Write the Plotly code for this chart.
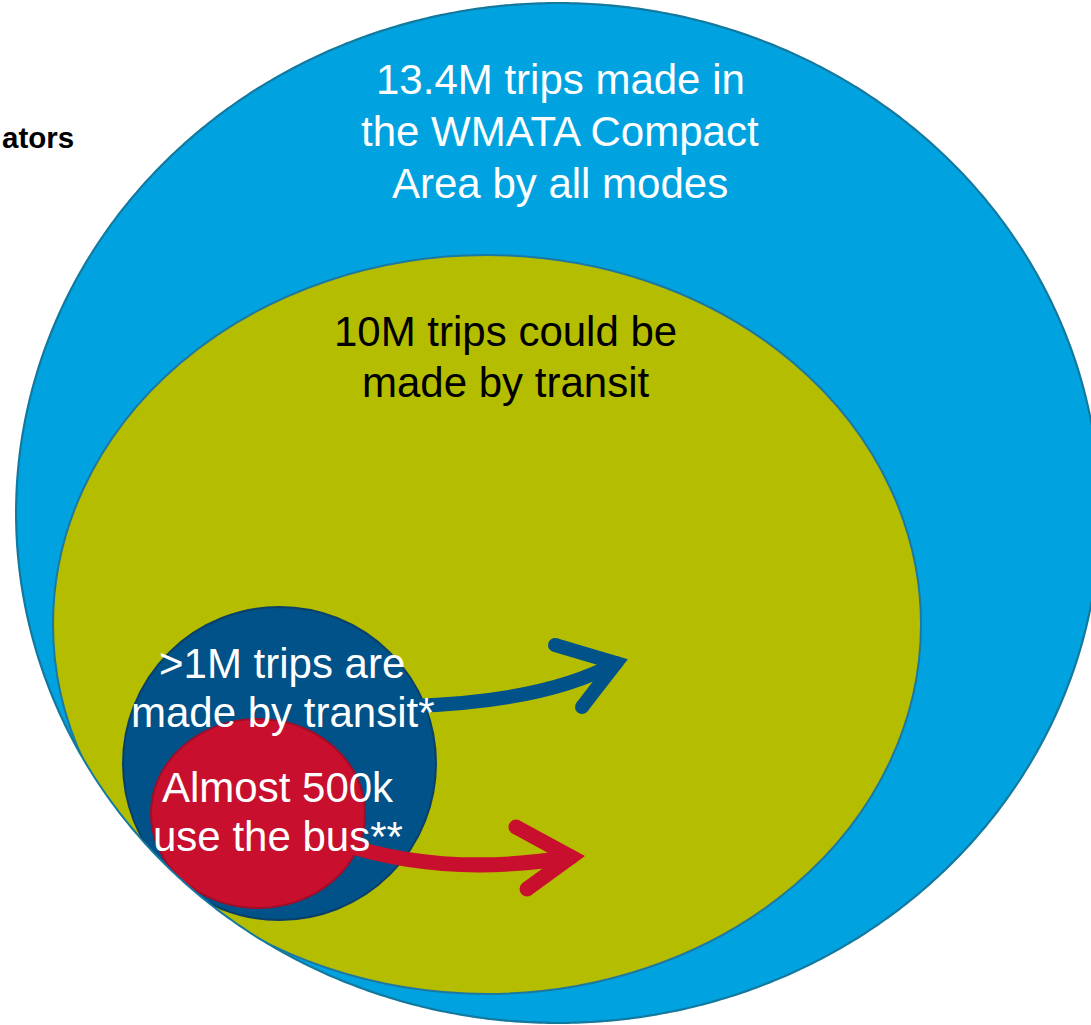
import numpy as np
import plotly.graph_objects as go

# ---------------- data ----------------
region_names = ["All trips", "Transit-possible", "Transit trips", "Bus trips"]
region_lines = [
    ["13.4M trips made in", "the WMATA Compact", "Area by all modes"],
    ["10M trips could be", "made by transit"],
    [">1M trips are", "made by transit*"],
    ["Almost 500k", "use the bus**"],
]
# diagram geometry (diagram units)
ellipse_cx = [558, 487, 279.5, 258]
ellipse_cy = [513, 624.5, 763.5, 813.5]
ellipse_rx = [542, 434, 156.5, 107]
ellipse_ry = [510, 369.5, 156.5, 94.5]

fill_colors = ["#00A3E0", "#B5BD00", "#005288", "#C8102E"]
line_colors = ["#14799F", "#1B78A0", "#0A3F68", "#A00D28"]
text_colors = ["white", "black", "white", "white"]

label_x = [560, 505, 282, 278]
label_first_y = [79, 331, 663, 787]
label_gap = [52, 51, 49, 49]

# arrows: start, bezier control, tip, head end upper, head end lower
arrow_start = [(410, 706), (340, 843)]
arrow_ctrl = [(545, 702), (444, 878)]
arrow_tip = [(616, 663), (571, 857)]
arrow_head_up = [(555, 645), (516, 827)]
arrow_head_low = [(582, 707), (527, 889)]
arrow_colors = ["#005288", "#C8102E"]
arrow_widths = [14, 15]

side_text = "ators"

W, H = 1091, 1025
FONT = "Liberation Sans, Arial, sans-serif"


def ellipse_path(cx, cy, rx, ry, n=720):
    t = np.linspace(0, 2 * np.pi, n, endpoint=False)
    xs = cx + rx * np.cos(t)
    ys = cy + ry * np.sin(t)
    return "M " + " L ".join(f"{x:.2f},{y:.2f}" for x, y in zip(xs, ys)) + " Z"


fig = go.Figure()
shapes = []

# ellipses
for i in range(4):
    shapes.append(dict(
        type="circle", xref="x", yref="y", layer="below",
        x0=ellipse_cx[i] - ellipse_rx[i], x1=ellipse_cx[i] + ellipse_rx[i],
        y0=ellipse_cy[i] - ellipse_ry[i], y1=ellipse_cy[i] + ellipse_ry[i],
        fillcolor=fill_colors[i], line=dict(color=line_colors[i], width=2),
    ))

# arrows
for i in range(2):
    (sx, sy), (cx, cy), (tx, ty) = arrow_start[i], arrow_ctrl[i], arrow_tip[i]
    (ux, uy), (lx, ly) = arrow_head_up[i], arrow_head_low[i]
    shapes.append(dict(
        type="path", xref="x", yref="y", layer="below",
        path=f"M {sx},{sy} Q {cx},{cy} {tx},{ty}",
        line=dict(color=arrow_colors[i], width=arrow_widths[i]),
    ))
    shapes.append(dict(
        type="path", xref="x", yref="y", layer="below",
        path=f"M {ux},{uy} L {tx},{ty} L {lx},{ly}",
        line=dict(color=arrow_colors[i], width=arrow_widths[i]),
    ))
    # round caps
    fig.add_trace(go.Scatter(
        x=[sx, tx, ux, lx], y=[sy, ty, uy, ly], mode="markers",
        marker=dict(size=arrow_widths[i], color=arrow_colors[i], line=dict(width=0)),
        hoverinfo="skip", showlegend=False,
    ))

# white mask outside the outer ellipse (clips inner shapes)
outer = ellipse_path(ellipse_cx[0], ellipse_cy[0], ellipse_rx[0], ellipse_ry[0])
shapes.append(dict(
    type="path", xref="x", yref="y", layer="above",
    path=f"M -60,-60 L {W + 60},-60 L {W + 60},{H + 60} L -60,{H + 60} Z " + outer,
    fillcolor="white", fillrule="evenodd", line=dict(width=0),
))
shapes.append(dict(
    type="path", xref="x", yref="y", layer="above",
    path=outer, fillcolor="rgba(0,0,0,0)",
    line=dict(color=line_colors[0], width=2),
))

annotations = []
for i, lines in enumerate(region_lines):
    for j, txt in enumerate(lines):
        annotations.append(dict(
            x=label_x[i], y=label_first_y[i] + j * label_gap[i],
            xref="x", yref="y", text=txt, showarrow=False,
            xanchor="center", yanchor="middle",
            font=dict(family=FONT, size=42, color=text_colors[i]),
        ))
annotations.append(dict(
    x=0, y=137, xref="x", yref="y", text=f"<b>{side_text}</b>",
    showarrow=False, xanchor="left", yanchor="middle",
    font=dict(family=FONT, size=29.5, color="black"),
))

fig.update_layout(
    width=W, height=H,
    margin=dict(l=0, r=0, t=0, b=0),
    paper_bgcolor="white", plot_bgcolor="white",
    xaxis=dict(range=[0, W], visible=False, fixedrange=True),
    yaxis=dict(range=[H, 0], visible=False, fixedrange=True),
    shapes=shapes, annotations=annotations,
    showlegend=False,
)

fig.write_html("out.html", config={"displayModeBar": False})
